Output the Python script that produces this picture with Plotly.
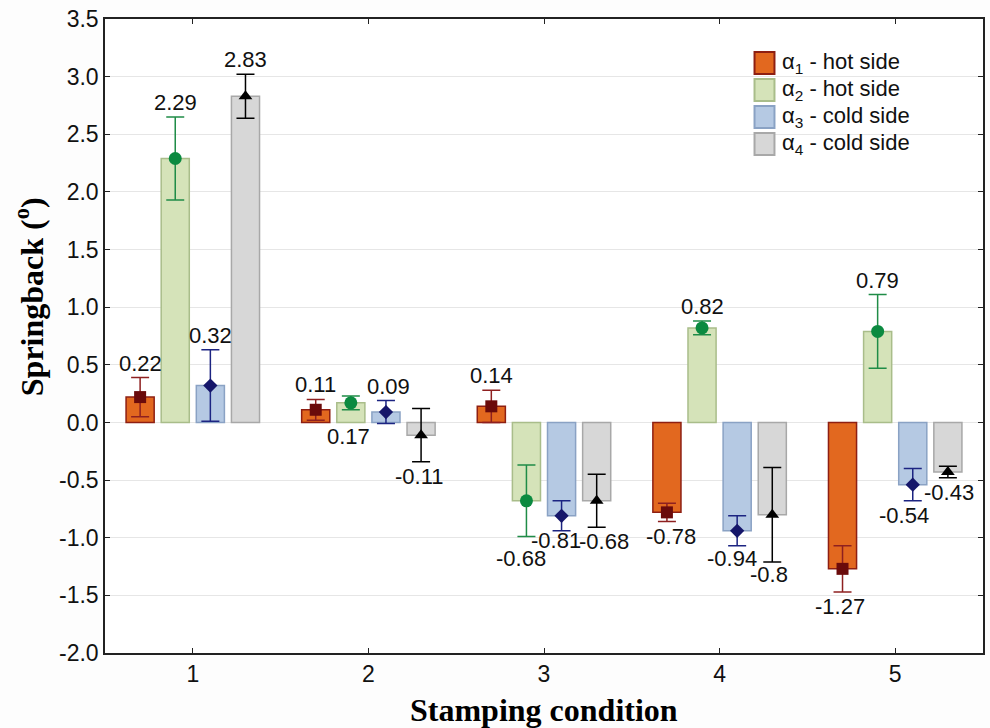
import plotly.graph_objects as go

conditions = [1, 2, 3, 4, 5]
series_names = ["α<sub>1</sub> - hot side", "α<sub>2</sub> - hot side",
                "α<sub>3</sub> - cold side", "α<sub>4</sub> - cold side"]
alpha1 = [0.22, 0.11, 0.14, -0.78, -1.27]
alpha2 = [2.29, 0.17, -0.68, 0.82, 0.79]
alpha3 = [0.32, 0.09, -0.81, -0.94, -0.54]
alpha4 = [2.83, -0.11, -0.68, -0.80, -0.43]
err1 = [0.17, 0.09, 0.14, 0.08, 0.20]
err2 = [0.36, 0.06, 0.31, 0.06, 0.32]
err3 = [0.31, 0.10, 0.13, 0.13, 0.14]
err4 = [0.19, 0.23, 0.23, 0.41, 0.05]
label_pos = [["a", "a", "a", "b", "b"],
             ["a", "b", "b", "a", "a"],
             ["a", "a", "b", "b", "b"],
             ["a", "b", "b", "b", "b"]]
label_xshift = [[0, 0, 0, 4, -3],
                [0, -2, -5, 0, 0],
                [0, 3, -6, -5, -9],
                [0, -2, 7, -3, 1]]
label_yshift = [[0, 0, 0, 0, 0],
                [0, 0, -7, 0, 0],
                [0, 0, 5, 2, 0],
                [0, 0, 0, 2, 0]]
y_ticks = [-2.0, -1.5, -1.0, -0.5, 0.0, 0.5, 1.0, 1.5, 2.0, 2.5, 3.0, 3.5]

values = [alpha1, alpha2, alpha3, alpha4]
errors = [err1, err2, err3, err4]
fills = ["#E2681F", "#D5E3B9", "#B5C9E3", "#D7D7D7"]
borders = ["#8E1F12", "#A9BD8A", "#8AA2C4", "#A8A8A8"]
mcolors = ["#6A0B0B", "#0B8A40", "#15166A", "#000000"]
ecolors = ["#8E2020", "#1F8C47", "#1C2482", "#000000"]
symbols = ["square", "circle", "diamond", "triangle-up"]
msizes = [12, 13, 11, 12]
shifts = [-0.3, -0.1, 0.1, 0.3]
bar_w = 0.16

fig = go.Figure()
annotations = []
for i in range(4):
    xs = [c + shifts[i] for c in conditions]
    fig.add_trace(go.Bar(x=xs, y=values[i], width=bar_w,
                         marker=dict(color=fills[i], line=dict(color=borders[i], width=1.5)),
                         showlegend=False, hoverinfo="skip"))
for i in range(4):
    xs = [c + shifts[i] for c in conditions]
    fig.add_trace(go.Scatter(x=xs, y=values[i], mode="markers",
                             marker=dict(symbol=symbols[i], size=msizes[i], color=mcolors[i]),
                             error_y=dict(type="data", array=errors[i], visible=True,
                                          color=ecolors[i], thickness=1.5, width=9),
                             showlegend=False))
    for j, v in enumerate(values[i]):
        txt = f"{v:g}"
        if label_pos[i][j] == "a":
            y = v + errors[i][j]
            ya, ys = "bottom", 1
        else:
            y = min(v - errors[i][j], 0)
            ya, ys = "top", -1
        annotations.append(dict(x=xs[j], y=y, text=txt, showarrow=False, xref="x", yref="y",
                                yanchor=ya, yshift=ys + label_yshift[i][j],
                                xshift=label_xshift[i][j], borderpad=0,
                                font=dict(family="Liberation Sans, Arial", size=22, color="#111")))

# manual legend (paper coordinates)
def px2x(p):
    return (p - 105) / 880.0

def px2y(p):
    return (653 - p) / 634.0

leg_centers = [63, 90, 117, 144]
shapes = []
lx, ly = [], []
for i in range(4):
    cy = leg_centers[i]
    shapes.append(dict(type="rect", xref="paper", yref="paper",
                       x0=px2x(756), x1=px2x(776), y0=px2y(cy + 11), y1=px2y(cy - 11),
                       fillcolor=fills[i], line=dict(color=borders[i], width=2)))
    lx.append(px2x(766))
    ly.append(px2y(cy))
    annotations.append(dict(x=px2x(782), y=px2y(cy), xref="paper", yref="paper",
                            text=series_names[i], showarrow=False, xanchor="left",
                            yanchor="middle",
                            font=dict(family="Liberation Sans, Arial", size=22, color="#111")))
fig.add_trace(go.Scatter(x=lx, y=ly, xaxis="x2", yaxis="y2", mode="markers",
                         marker=dict(symbol=symbols, size=[10, 11, 8, 10], color=mcolors),
                         showlegend=False, hoverinfo="skip"))

# axis titles
annotations.append(dict(x=0.5, y=px2y(710), xref="paper", yref="paper",
                        text="<b>Stamping condition</b>",
                        showarrow=False, yanchor="middle",
                        font=dict(family="Liberation Serif, Times New Roman", size=32, color="#000")))
annotations.append(dict(x=px2x(29), y=px2y(297), xref="paper", yref="paper",
                        text="<b>Springback (<sup>o</sup>)</b>", textangle=-90,
                        showarrow=False, xanchor="center", yanchor="middle",
                        font=dict(family="Liberation Serif, Times New Roman", size=32, color="#000")))

fig.update_layout(
    width=990, height=728,
    margin=dict(l=105, r=5, t=19, b=75),
    paper_bgcolor="#FDFDFD", plot_bgcolor="#FFFFFF",
    barmode="overlay",
    showlegend=False,
    shapes=shapes,
    annotations=annotations,
    xaxis=dict(range=[0.5, 5.5], tickvals=conditions, ticktext=[str(c) for c in conditions],
               showgrid=False, zeroline=False, showline=True, linecolor="#222", linewidth=1.5,
               mirror="ticks", ticks="inside", ticklen=5, tickcolor="#222",
               tickfont=dict(family="Liberation Sans, Arial", size=23, color="#111")),
    yaxis=dict(range=[-2.0, 3.5], tickvals=y_ticks, ticktext=[f"{t:.1f}" for t in y_ticks],
               showgrid=True, gridcolor="#E6E6E6", gridwidth=1, zeroline=False,
               showline=True, linecolor="#222", linewidth=1.5,
               mirror="ticks", ticks="inside", ticklen=5, tickcolor="#222",
               tickfont=dict(family="Liberation Sans, Arial", size=23, color="#111")),
    xaxis2=dict(range=[0, 1], overlaying="x", visible=False, fixedrange=True),
    yaxis2=dict(range=[0, 1], overlaying="y", visible=False, fixedrange=True),
)

fig.write_html("out.html")
